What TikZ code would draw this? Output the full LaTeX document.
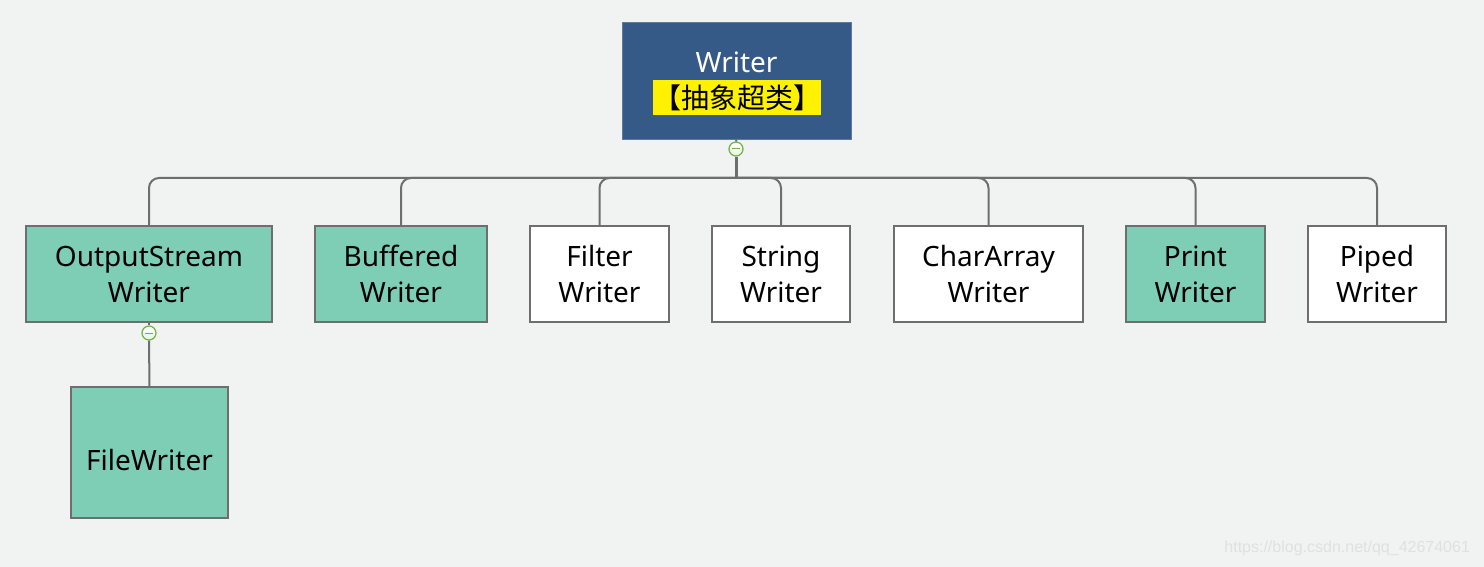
\documentclass[tikz,border=0pt]{standalone}
\usepackage{fontspec}
\setmainfont{Noto Sans}
\newfontfamily\cjkfont{Noto Sans CJK SC}
\newfontfamily\markfont{Liberation Sans}
\usetikzlibrary{positioning}
\definecolor{bgcol}{HTML}{F0F3F2}
\definecolor{rootblue}{HTML}{365A87}
\definecolor{tealfill}{HTML}{7ECDB5}
\definecolor{linegray}{HTML}{6E6E6E}
\definecolor{knobgreen}{HTML}{6DB33F}
\tikzset{
  topicbox/.style={draw=linegray, line width=1pt, align=center, inner sep=0pt,
    font=\fontsize{14}{18}\selectfont, minimum height=48pt},
  tealbox/.style={topicbox, fill=tealfill},
  plainbox/.style={topicbox, fill=white},
  link/.style={draw=linegray, line width=1pt, rounded corners=5pt},
  knob/.style={circle, draw=knobgreen, line width=0.6pt, top color=white,
    bottom color=knobgreen!15, minimum size=7pt, inner sep=0pt,
    path picture={\draw[knobgreen, line width=0.5pt]
      ([xshift=-2pt]path picture bounding box.center) --
      ([xshift=2pt]path picture bounding box.center);}}
}

\begin{document}
\begin{tikzpicture}[x=0.5pt, y=-0.5pt]

    \fill[bgcol] (0,0) rectangle (1484,567);
    \useasboundingbox (0,0) rectangle (1484,567);

    % root
    \node[draw=rootblue!80!white, fill=rootblue, minimum width=114.5pt, minimum height=58.5pt] (wr) at (736.5,80.5) {};
    \node[text=white, font=\fontsize{14}{18}\selectfont] (wrtitle) at (736.5,62) {Writer};
    \node[fill=yellow, minimum width=83pt, minimum height=17.5pt, inner sep=0pt,
          font=\cjkfont\fontsize{14}{16}\selectfont] (wrtag) at (737,97.5) {【抽象超类】};

    % children
    \node[tealbox, minimum width=123pt] (osw) at (149,274) {OutputStream\\Writer};
    \node[tealbox, minimum width=86pt] (bw) at (401,274) {Buffered\\Writer};
    \node[plainbox, minimum width=69.5pt] (flt) at (599.5,274) {Filter\\Writer};
    \node[plainbox, minimum width=69pt] (sw) at (781,274) {String\\Writer};
    \node[plainbox, minimum width=94.5pt] (caw) at (988.5,274) {CharArray\\Writer};
    \node[tealbox, minimum width=69.5pt] (pw) at (1195.5,274) {Print\\Writer};
    \node[plainbox, minimum width=69pt] (pip) at (1377,274) {Piped\\Writer};

    \node[tealbox, minimum width=78.5pt, minimum height=65.5pt,
          text height=18pt, text depth=0pt] (fiw) at (149.5,452.5) {FileWriter};

    % connectors
    \node[knob] (k1) at (736,149) {};
    \coordinate (bus) at (736,178);
    \draw[link] (wr.south) -- (k1.north);
    \draw[link, line width=1.5pt] (k1.south) -- (bus);
    \foreach \c in {osw,bw,flt,sw,caw,pw,pip}
        \draw[link] (bus) -| (\c.north);

    \node[knob] (k2) at (149,333) {};
    \draw[link] (osw.south) -- (k2.north);
    \draw[link] (k2.south) -- (fiw.north);

    \node[anchor=east, text=black!12, font=\markfont\fontsize{8}{8}\selectfont] (mark) at (1477,548) {https://blog.csdn.net/qq\_42674061};

\end{tikzpicture}
\end{document}
